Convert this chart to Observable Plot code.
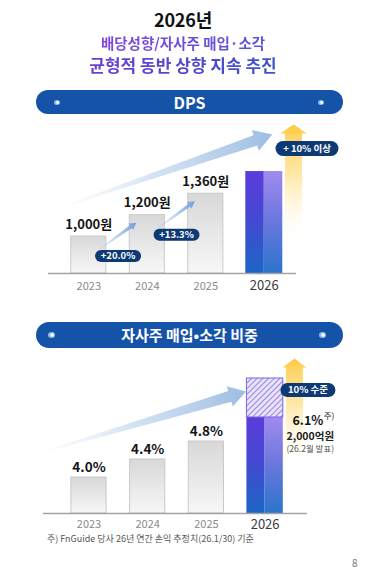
<!DOCTYPE html>
<html><head><meta charset="utf-8">
<script src="https://cdn.jsdelivr.net/npm/d3@7"></script>
<script src="https://cdn.jsdelivr.net/npm/@observablehq/plot@0.6"></script>
<style>
body{margin:0;background:#fff;}
#page{position:relative;width:366px;height:569px;overflow:hidden;background:#fff;font-family:"Noto Sans CJK KR","Noto Sans",sans-serif;}
.abs{position:absolute;left:0;width:366px;text-align:center;white-space:nowrap;}
.t1{top:8.5px;font-size:18px;line-height:20px;font-weight:700;color:#111;letter-spacing:-0.2px}
.grad{display:inline-block;-webkit-background-clip:text;background-clip:text;color:transparent;font-weight:700;}
.t2{top:33.5px;font-size:14.5px;line-height:17px;}
.t2 span{background-image:linear-gradient(90deg,#7d45d8,#5a55d8);}
.t3{top:54.5px;font-size:17px;line-height:20px;}
.t3 span{background-image:linear-gradient(90deg,#6b3ed2,#3d52c8);}
.banner{position:absolute;left:36px;width:307px;border-radius:13px;background:#1553a9;color:#fff;text-align:center;font-weight:700;}
.bdot{position:absolute;width:6px;height:5px;border-radius:50%;background:radial-gradient(circle at 60% 50%, #ffffff 0 22%, #8fbaf0 45%);}
.chart{position:absolute;left:0;}
.note{position:absolute;left:47px;top:533px;font-size:9px;line-height:12px;color:#555;white-space:nowrap;}
.pnum{position:absolute;left:352px;top:557px;font-size:10px;line-height:12px;color:#777;}
</style></head>
<body>
<svg width="0" height="0" style="position:absolute">
<defs>
 <linearGradient id="greyGrad" x1="0" y1="0" x2="0" y2="1"><stop offset="0" stop-color="#d8d8d8"/><stop offset="1" stop-color="#f7f7f7"/></linearGradient>
 <linearGradient id="purpleL" x1="0" y1="0" x2="0" y2="1"><stop offset="0" stop-color="#5b3bdc"/><stop offset="0.45" stop-color="#4548d2"/><stop offset="1" stop-color="#1b66c5"/></linearGradient>
 <linearGradient id="purpleR" x1="0" y1="0" x2="0" y2="1"><stop offset="0" stop-color="#a08bef"/><stop offset="0.45" stop-color="#6f78de"/><stop offset="1" stop-color="#2b74cc"/></linearGradient>
 <linearGradient id="trendGrad" x1="0" y1="0" x2="1" y2="0"><stop offset="0" stop-color="#dce8f5" stop-opacity="0"/><stop offset="0.45" stop-color="#c2d7ee" stop-opacity="0.7"/><stop offset="1" stop-color="#9dbde3"/></linearGradient>
 <linearGradient id="smallGrad" x1="0" y1="0" x2="1" y2="0"><stop offset="0" stop-color="#b8d0ec" stop-opacity="0.1"/><stop offset="1" stop-color="#6f9fd6"/></linearGradient>
 <linearGradient id="yellowGrad" x1="0" y1="0" x2="0" y2="1"><stop offset="0" stop-color="#ffc93c"/><stop offset="0.12" stop-color="#ffd56a"/><stop offset="0.45" stop-color="#ffe7a6"/><stop offset="1" stop-color="#fff6df" stop-opacity="0"/></linearGradient>
 <pattern id="hatch" width="4" height="4" patternUnits="userSpaceOnUse" patternTransform="rotate(45)"><rect width="4" height="4" fill="#e9e2fb"/><line x1="0" y1="0" x2="0" y2="4" stroke="#5f45d2" stroke-width="1.2"/></pattern>
</defs></svg>
<div id="page">
  <div class="abs t1">2026년</div>
  <div class="abs t2"><span class="grad">배당성향/자사주 매입·소각</span></div>
  <div class="abs t3"><span class="grad">균형적 동반 상향 지속 추진</span></div>
  <div class="banner" style="top:90px;height:24px;line-height:24px;font-size:16px;">DPS</div>
  <div class="bdot" style="left:54px;top:100px"></div>
  <div class="bdot" style="left:318px;top:100px"></div>
  <div class="banner" style="top:322px;height:26px;line-height:26px;font-size:15px;">자사주 매입•소각 비중</div>
  <div class="bdot" style="left:48px;top:332px;width:7px;height:6px"></div>
  <div class="bdot" style="left:319px;top:332px;width:7px;height:6px"></div>
  <div id="c1" class="chart" style="top:118px"></div>
  <div id="c2" class="chart" style="top:352px"></div>
  <div class="note">주) FnGuide 당사 26년 연간 손익 추정치(26.1/30) 기준</div>
  <div class="pnum">8</div>
</div>
<script>
// ---------- data ----------
const years = [2023, 2024, 2025, 2026];
const dpsValues = [1000, 1200, 1360, 1500];          // 2026: +10% 이상 목표 (추정)
const dpsLabels = ["1,000원", "1,200원", "1,360원", ""];
const dpsGrowthLabels = ["+20.0%", "+13.3%"];
const dpsTargetLabel = "+ 10% 이상";
const buybackValues = [4.0, 4.4, 4.8, 6.1];
const buybackLabels = ["4.0%", "4.4%", "4.8%", "6.1%"];
const buybackTarget = 10;
const buybackTargetLabel = "10% 수준";
const buybackNote = ["2,000억원", "(26.2월 발표)"];
const noteMark = "주)";

const FONT = '"Noto Sans CJK KR","Noto Sans",sans-serif';

// ---------- custom symbols ----------
function arrowSymbol(angleDeg, L, w0, w1, hw, hl) {
  const t = angleDeg * Math.PI / 180, c = Math.cos(t), s = Math.sin(t);
  const P = ([a, b]) => [a * c - b * s, a * s + b * c];
  const pts = [[-L, -w0/2], [-hl, -w1/2], [-hl, -hw/2], [0, 0], [-hl, hw/2], [-hl, w1/2], [-L, w0/2]].map(P);
  return {draw(ctx) { ctx.moveTo(pts[0][0], pts[0][1]); for (const p of pts.slice(1)) ctx.lineTo(p[0], p[1]); ctx.closePath(); }};
}
function pill(w, h) {
  const r = h / 2, x0 = -w/2 + r, x1 = w/2 - r;
  return {draw(ctx) {
    ctx.moveTo(x0, -r); ctx.lineTo(x1, -r);
    ctx.arc(x1, 0, r, -Math.PI/2, Math.PI/2);
    ctx.lineTo(x0, r);
    ctx.arc(x0, 0, r, Math.PI/2, 3*Math.PI/2);
    ctx.closePath();
  }};
}

// ---------- chart 1 : DPS ----------
const dps = years.map((year, i) => ({year, value: dpsValues[i], label: dpsLabels[i]}));
const dpsGrowth = dpsGrowthLabels.map((label, i) => ({year: years[i], value: dpsValues[i], label}));
const last1 = [dps[3]];
const H1 = 182, MB1 = 27, base1 = H1 - MB1;
const c1 = Plot.plot({
  width: 366, height: H1,
  marginTop: 0, marginBottom: MB1, marginLeft: 48, marginRight: 70,
  x: {type: "linear", domain: [2022, 2027], range: [88.3 - 58.5, 88.3 + 4 * 58.5], axis: null},
  y: {type: "pow", exponent: 2.5, domain: [0, 1600], range: [base1, base1 - 37 * Math.pow(1.6, 2.5)], axis: null},
  style: {fontFamily: FONT, background: "transparent", overflow: "visible"},
  marks: [
    Plot.dot(last1, {x: "year", y: "value", dx: 8, dy: -37, r: 1, symbol: arrowSymbol(-19, 230, 1, 11, 22, 18), fill: "url(#trendGrad)", stroke: "none"}),
    Plot.dot(last1, {x: d => d.year + 0.5, y: "value", dy: -47, r: 1, symbol: arrowSymbol(-90, 110, 17, 17, 27, 9), fill: "url(#yellowGrad)", stroke: "none"}),
    Plot.rect(dps.slice(0, 3), {x1: d => d.year - 0.3, x2: d => d.year + 0.3, y1: 0, y2: "value", fill: "url(#greyGrad)", stroke: "#c9c9c9", strokeWidth: 1}),
    Plot.rect(last1, {x1: d => d.year - 0.316, x2: d => d.year, y1: 0, y2: "value", fill: "url(#purpleL)"}),
    Plot.rect(last1, {x1: d => d.year, x2: d => d.year + 0.316, y1: 0, y2: "value", fill: "url(#purpleR)"}),
    Plot.ruleY([0], {stroke: "#a3a3a3", strokeWidth: 1.5}),
    Plot.dot(dps.slice(1, 3), {x: "year", y: "value", dx: -11, dy: 7.5, r: 1, symbol: arrowSymbol(-36, 52, 1, 3.5, 8, 7), fill: "url(#smallGrad)", stroke: "none"}),
    Plot.text(dps.slice(0, 3), {x: "year", y: "value", text: "label", dy: -12, fontSize: 13, fontWeight: 700, fill: "#151515"}),
    Plot.dot(dpsGrowth, {x: d => d.year + 0.5, y: "value", dy: 19.5, r: 1, symbol: pill(46, 12), fill: "#0d3a75", stroke: "none"}),
    Plot.text(dpsGrowth, {x: d => d.year + 0.5, y: "value", dy: 19.5, text: "label", fill: "#fff", fontSize: 9.5, fontWeight: 700}),
    Plot.dot(last1, {x: d => d.year + 0.73, y: "value", dy: -23, r: 1, symbol: pill(63, 15), fill: "#0d3a75", stroke: "none"}),
    Plot.text(last1, {x: d => d.year + 0.73, y: "value", dy: -23, text: () => dpsTargetLabel, fill: "#fff", fontSize: 9.5, fontWeight: 700}),
    Plot.text(dps.slice(0, 3), {x: "year", y: 0, dy: 12.5, text: d => String(d.year), fontSize: 11, fill: "#8a8a8a"}),
    Plot.text(last1, {x: "year", y: 0, dy: 12.5, text: d => String(d.year), fontSize: 13, fill: "#3a3a3a"})
  ]
});
document.getElementById("c1").append(c1);

// ---------- chart 2 : 자사주 매입·소각 비중 ----------
const bb = years.map((year, i) => ({year, value: buybackValues[i], label: buybackLabels[i]}));
const last2 = [bb[3]];
const tgt2 = [{year: 2026, value: buybackTarget, from: buybackValues[3]}];
const H2 = 182, MB2 = 21, base2 = H2 - MB2;
const c2 = Plot.plot({
  width: 366, height: H2,
  marginTop: 0, marginBottom: MB2, marginLeft: 43, marginRight: 59,
  x: {type: "linear", domain: [2022, 2027], range: [88.5 - 58.7, 88.5 + 4 * 58.7], axis: null},
  y: {type: "linear", domain: [0, 4.0, 4.8, 6.1, 10], range: [base2, base2 - 36, base2 - 72, base2 - 96, base2 - 135], axis: null},
  style: {fontFamily: FONT, background: "transparent", overflow: "visible"},
  marks: [
    Plot.dot(tgt2, {x: "year", y: "value", dx: -19, dy: 13, r: 1, symbol: arrowSymbol(-16.6, 220, 1, 11, 21, 17), fill: "url(#trendGrad)", stroke: "none"}),
    Plot.dot(tgt2, {x: d => d.year + 0.5, y: "value", dy: -20, r: 1, symbol: arrowSymbol(-90, 100, 17, 17, 24, 9), fill: "url(#yellowGrad)", stroke: "none"}),
    Plot.rect(bb.slice(0, 3), {x1: d => d.year - 0.3, x2: d => d.year + 0.3, y1: 0, y2: "value", fill: "url(#greyGrad)", stroke: "#c9c9c9", strokeWidth: 1}),
    Plot.rect(last2, {x1: d => d.year - 0.31, x2: d => d.year, y1: 0, y2: "value", fill: "url(#purpleL)"}),
    Plot.rect(last2, {x1: d => d.year, x2: d => d.year + 0.31, y1: 0, y2: "value", fill: "url(#purpleR)"}),
    Plot.rect(tgt2, {x1: d => d.year - 0.31, x2: d => d.year + 0.31, y1: "from", y2: "value", fill: "url(#hatch)", stroke: "#7b63df", strokeWidth: 1}),
    Plot.ruleY([0], {stroke: "#a3a3a3", strokeWidth: 1.5}),
    Plot.text(bb.slice(0, 3), {x: "year", y: "value", text: "label", dy: -10, fontSize: 13.5, fontWeight: 700, fill: "#151515"}),
    Plot.dot(tgt2, {x: d => d.year + 0.73, y: "value", dy: 11.5, r: 1, symbol: pill(55, 14), fill: "#0d3a75", stroke: "none"}),
    Plot.text(tgt2, {x: d => d.year + 0.73, y: "value", dy: 11.5, text: () => buybackTargetLabel, fill: "#fff", fontSize: 9.5, fontWeight: 700}),
    Plot.text(last2, {x: d => d.year + 0.77, y: "value", dx: 13, dy: 3, text: "label", textAnchor: "end", fontSize: 12.5, fontWeight: 700, fill: "#151515"}),
    Plot.text(last2, {x: d => d.year + 0.77, y: "value", dx: 13.5, dy: -1, text: () => noteMark, textAnchor: "start", fontSize: 8.5, fill: "#222"}),
    Plot.text(last2, {x: d => d.year + 0.77, y: "value", dy: 19, text: () => buybackNote[0], fontSize: 10.5, fontWeight: 700, fill: "#222"}),
    Plot.text(last2, {x: d => d.year + 0.77, y: "value", dy: 32, text: () => buybackNote[1], fontSize: 8.5, fill: "#555"}),
    Plot.text(bb.slice(0, 3), {x: "year", y: 0, dy: 11, text: d => String(d.year), fontSize: 11, fill: "#8a8a8a"}),
    Plot.text(last2, {x: "year", y: 0, dy: 11, text: d => String(d.year), fontSize: 13, fill: "#3a3a3a"})
  ]
});
document.getElementById("c2").append(c2);
</script>
</body></html>
